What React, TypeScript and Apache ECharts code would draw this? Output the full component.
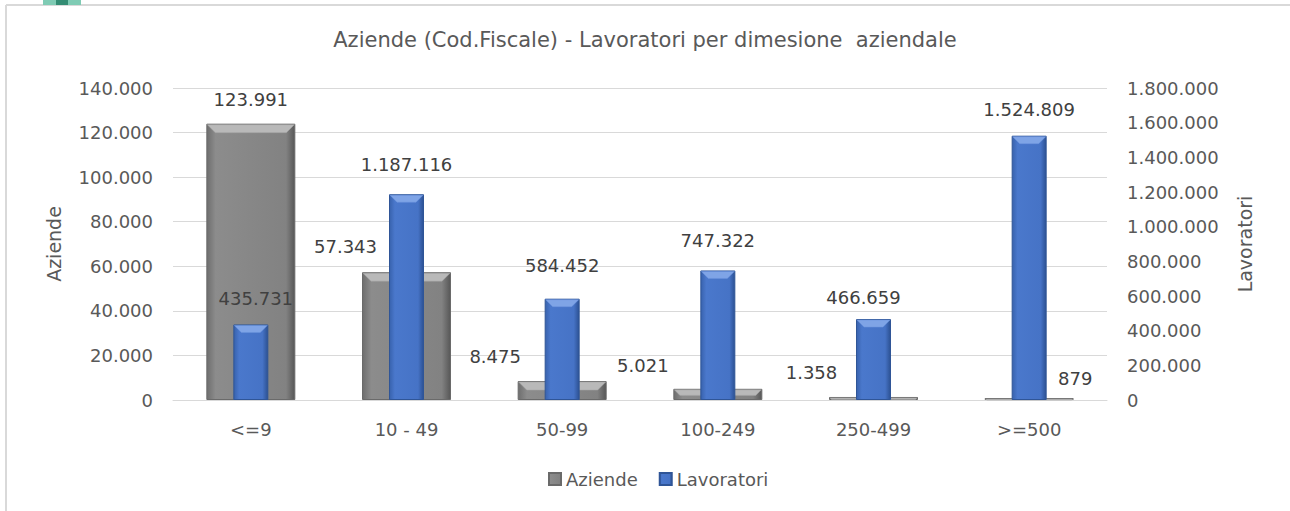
import React, { useEffect, useRef } from "react";
import * as echarts from "echarts";

const categories = ["<=9", "10 - 49", "50-99", "100-249", "250-499", ">=500"];
const aziende = [123991, 57343, 8475, 5021, 1358, 879];
const lavoratori = [435731, 1187116, 584452, 747322, 466659, 1524809];
const leftTicks = { min: 0, max: 140000, interval: 20000 };
const rightTicks = { min: 0, max: 1800000, interval: 200000 };

const aziendeLabelOffsets = [[0, 0], [-61, -2], [-67, -1], [-75, 1], [-62, 0], [46, 4]];
const lavoratoriLabelOffsets = [[5, -2], [0, -6], [0, -9], [0, -6], [-10, 2], [0, -2]];

const FONT = "DejaVu Sans";
const TXT = "#595959";
const GRAY_W = 89;
const BLUE_W = 35;

const fmt = (n: number) => String(Math.round(n)).replace(/\B(?=(\d{3})+(?!\d))/g, ".");

const grayGrad = new echarts.graphic.LinearGradient(0, 0, 1, 0, [
  { offset: 0, color: "#6e6e6e" },
  { offset: 0.1, color: "#8c8c8c" },
  { offset: 0.9, color: "#828282" },
  { offset: 1, color: "#575757" },
]);
const blueGrad = new echarts.graphic.LinearGradient(0, 0, 1, 0, [
  { offset: 0, color: "#3862ad" },
  { offset: 0.16, color: "#4a78cc" },
  { offset: 0.84, color: "#4673c6" },
  { offset: 1, color: "#2c5193" },
]);

function bevel(width: number, maxB: number, light: string, edge: string) {
  return (params: any, api: any) => {
    const i = api.value(0);
    const v = api.value(1);
    const top = api.coord([i, v]);
    const base = api.coord([i, 0]);
    const h = base[1] - top[1];
    const b = Math.max(0, Math.min(maxB, h / 2));
    const x0 = top[0] - width / 2 + 1;
    const x1 = top[0] + width / 2 - 1;
    const y = top[1] + 1;
    return {
      type: "polygon",
      shape: {
        points: [
          [x0, y],
          [x1, y],
          [x1 - b, y + b],
          [x0 + b, y + b],
        ],
      },
      style: { fill: light, stroke: edge, lineWidth: 0.5 },
    };
  };
}

export default function App() {
  const ref = useRef<HTMLDivElement>(null);
  useEffect(() => {
    if (!ref.current) return;
    const chart = echarts.init(ref.current, null, { renderer: "svg" });
    const option: any = {
      animation: false,
      backgroundColor: "#ffffff",
      textStyle: { fontFamily: FONT },
      title: {
        text: "Aziende (Cod.Fiscale) - Lavoratori per dimesione  aziendale",
        left: "center",
        top: 29,
        padding: 0,
        textStyle: { fontFamily: FONT, fontSize: 21, fontWeight: "normal", color: TXT },
      },
      legend: {
        left: 543,
        top: 465,
        itemWidth: 12,
        itemHeight: 12,
        itemGap: 21,
        icon: "rect",
        textStyle: { fontFamily: FONT, fontSize: 18, color: TXT },
        data: ["Aziende", "Lavoratori"],
      },
      grid: { left: 173, right: 183, top: 88, bottom: 111, containLabel: false },
      xAxis: [
        {
          type: "category",
          data: categories,
          axisLine: { lineStyle: { color: "#d9d9d9", width: 1 } },
          axisTick: { show: false },
          axisLabel: { fontFamily: FONT, fontSize: 18, color: TXT, margin: 20 },
        },
        {
          type: "category",
          data: categories,
          show: false,
          position: "bottom",
        },
      ],
      yAxis: [
        {
          type: "value",
          min: leftTicks.min,
          max: leftTicks.max,
          interval: leftTicks.interval,
          name: "Aziende",
          nameLocation: "middle",
          nameRotate: 90,
          nameGap: 110,
          nameTextStyle: { fontFamily: FONT, fontSize: 19, color: TXT },
          axisLine: { show: false },
          axisTick: { show: false },
          splitLine: { lineStyle: { color: "#d9d9d9", width: 1 } },
          axisLabel: { fontFamily: FONT, fontSize: 18, color: TXT, margin: 20, formatter: fmt },
        },
        {
          type: "value",
          min: rightTicks.min,
          max: rightTicks.max,
          interval: rightTicks.interval,
          name: "Lavoratori",
          nameLocation: "middle",
          nameRotate: 90,
          nameGap: 128,
          nameTextStyle: { fontFamily: FONT, fontSize: 19, color: TXT },
          axisLine: { show: false },
          axisTick: { show: false },
          splitLine: { show: false },
          axisLabel: { fontFamily: FONT, fontSize: 18, color: TXT, margin: 20, formatter: fmt },
        },
      ],
      series: [
        {
          name: "Aziende",
          type: "bar",
          xAxisIndex: 0,
          yAxisIndex: 0,
          barWidth: GRAY_W,
          itemStyle: { color: grayGrad, borderColor: "#6a6a6a", borderWidth: 1 },
          data: aziende.map((v, i) => ({
            value: v,
            label: { offset: aziendeLabelOffsets[i] },
          })),
          label: {
            show: true,
            position: "top",
            distance: 15,
            fontFamily: FONT,
            fontSize: 18,
            color: "#404040",
            formatter: (p: any) => fmt(p.value),
          },
        },
        {
          name: "bevelA",
          type: "custom",
          xAxisIndex: 0,
          yAxisIndex: 0,
          z: 3,
          silent: true,
          renderItem: bevel(GRAY_W, 8, "#b9b9b9", "#a0a0a0"),
          data: aziende.map((v, i) => [i, v]),
        },
        {
          name: "Lavoratori",
          type: "bar",
          xAxisIndex: 1,
          yAxisIndex: 1,
          z: 4,
          barWidth: BLUE_W,
          itemStyle: { color: blueGrad, borderColor: "#2f5597", borderWidth: 1 },
          data: lavoratori.map((v, i) => ({
            value: v,
            label: { offset: lavoratoriLabelOffsets[i] },
          })),
          label: {
            show: true,
            position: "top",
            distance: 15,
            fontFamily: FONT,
            fontSize: 18,
            color: "#404040",
            formatter: (p: any) => fmt(p.value),
          },
        },
        {
          name: "bevelL",
          type: "custom",
          xAxisIndex: 1,
          yAxisIndex: 1,
          z: 5,
          silent: true,
          renderItem: bevel(BLUE_W, 7, "#7fa4e6", "#6a93dd"),
          data: lavoratori.map((v, i) => [i, v]),
        },
      ],
      graphic: [
        { type: "line", shape: { x1: 6, y1: 5, x2: 1290, y2: 5 }, style: { stroke: "#d9d9d9", lineWidth: 2 } },
        { type: "line", shape: { x1: 6, y1: 5, x2: 6, y2: 511 }, style: { stroke: "#d9d9d9", lineWidth: 2 } },
        { type: "rect", shape: { x: 43, y: 0, width: 38, height: 5 }, style: { fill: "#7fcbb4" } },
        { type: "rect", shape: { x: 56, y: 0, width: 12, height: 5 }, style: { fill: "#338c73" } },
      ],
    };
    chart.setOption(option);
    return () => chart.dispose();
  }, []);
  return (
    <div
      ref={ref}
      style={{ position: "fixed", left: 0, top: 0, width: 1290, height: 511 }}
    />
  );
}
